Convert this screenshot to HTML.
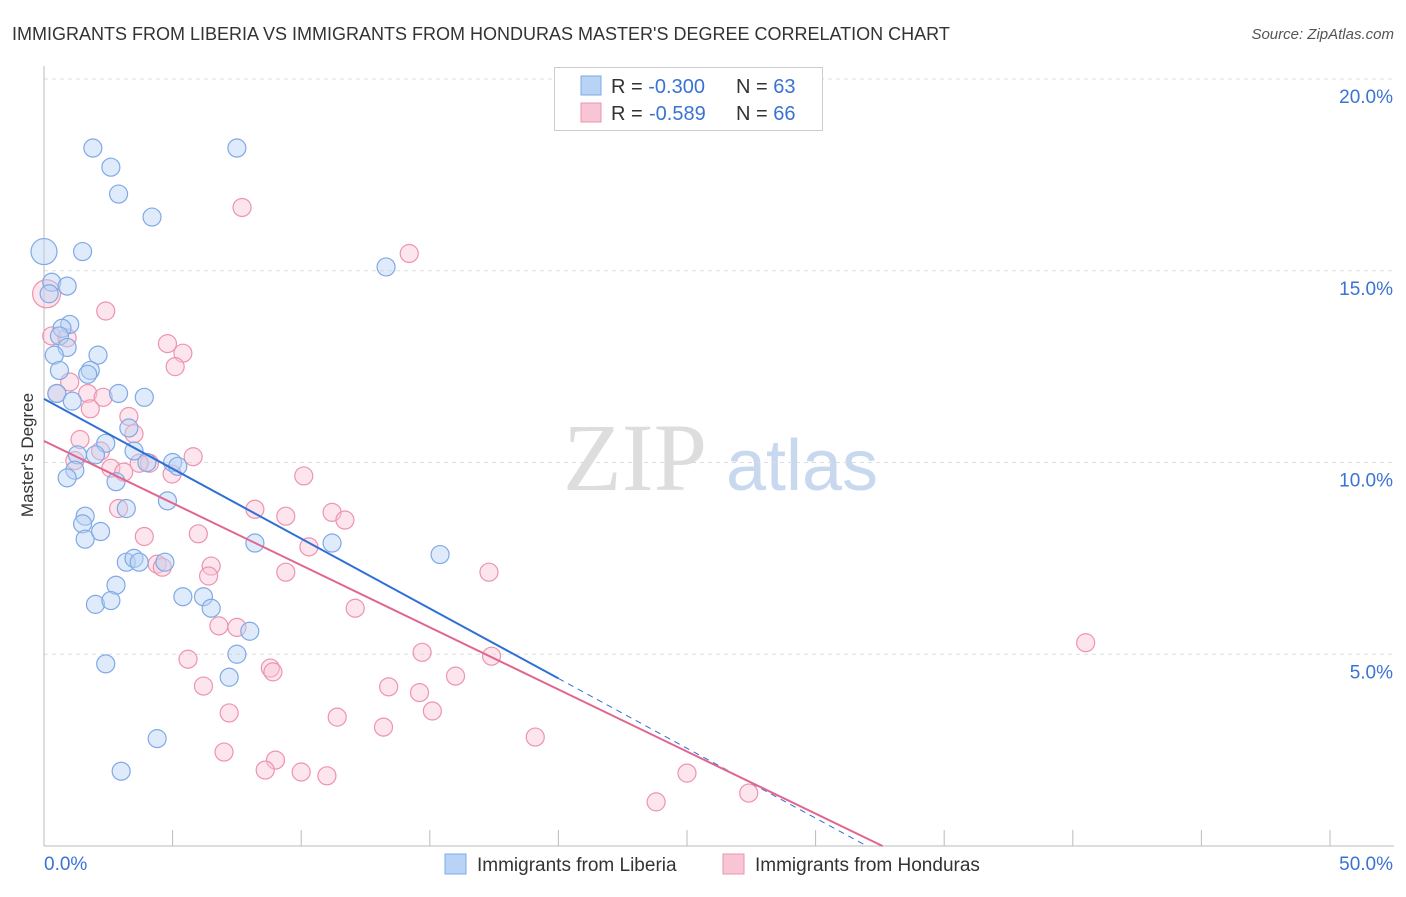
<!DOCTYPE html>
<html><head><meta charset="utf-8"><style>
body{margin:0;background:#fff;font-family:"Liberation Sans",sans-serif;}
</style></head><body>
<svg id="chart" width="1406" height="892" xmlns="http://www.w3.org/2000/svg" font-family="Liberation Sans, sans-serif">
<text x="12" y="40" font-size="18" fill="#333">IMMIGRANTS FROM LIBERIA VS IMMIGRANTS FROM HONDURAS MASTER'S DEGREE CORRELATION CHART</text>
<text x="1394" y="39" font-size="15" fill="#555" font-style="italic" text-anchor="end">Source: ZipAtlas.com</text>
<text transform="translate(33,455) rotate(-90)" font-size="17" fill="#333" text-anchor="middle">Master's Degree</text>
<g>
<text x="635" y="490" font-size="96" font-family="Liberation Serif, serif" fill="#ddd" text-anchor="middle">ZIP</text>
<text x="802" y="490" font-size="72" fill="#c8d8ee" text-anchor="middle">atlas</text>
</g>
<g id="grid"></g><g id="ticks"></g><g id="pts"></g><g id="lines"></g>
<g>
<rect x="554.5" y="67.5" width="268" height="63" fill="#fff" stroke="#ccc"/>
<rect x="581" y="76" width="20" height="19" fill="#b8d3f5" stroke="#7fa9e6"/>
<rect x="581" y="103" width="20" height="19" fill="#f8c5d4" stroke="#ee93b0"/>
<text x="611" y="93" font-size="20" fill="#333">R = <tspan fill="#3a73d4">-0.300</tspan><tspan x="736">N = </tspan><tspan fill="#3a73d4">63</tspan></text>
<text x="611" y="120" font-size="20" fill="#333">R = <tspan x="649" fill="#3a73d4">-0.589</tspan><tspan x="736">N = </tspan><tspan fill="#3a73d4">66</tspan></text>
</g>
<g>
<rect x="445" y="854" width="21" height="20" fill="#b8d3f5" stroke="#7fa9e6"/>
<text x="477" y="871" font-size="19" fill="#333">Immigrants from Liberia</text>
<rect x="723" y="854" width="21" height="20" fill="#f8c5d4" stroke="#ee93b0"/>
<text x="755" y="871" font-size="19" fill="#333">Immigrants from Honduras</text>
</g>
</svg>
<script>
const blueX=[0.0,1.9,2.6,2.9,4.2,7.5,1.5,13.3,0.3,0.9,0.2,1.0,0.7,0.6,0.9,0.4,2.1,0.6,1.8,1.7,2.9,3.9,0.5,1.1,3.3,2.4,3.5,2.0,1.3,1.2,0.9,2.8,5.0,5.2,4.0,4.8,3.2,1.6,1.5,1.6,2.2,8.2,11.2,15.4,3.2,3.5,3.7,4.7,2.8,5.4,6.2,2.0,2.6,6.5,8.0,7.5,2.4,7.2,4.4,3.0];
const blueY=[15.5,18.2,17.7,17.0,16.4,18.2,15.5,15.1,14.7,14.6,14.4,13.6,13.5,13.3,13.0,12.8,12.8,12.4,12.4,12.3,11.8,11.7,11.8,11.6,10.9,10.5,10.3,10.2,10.2,9.8,9.6,9.5,10.0,9.9,10.0,9.0,8.8,8.6,8.4,8.0,8.2,7.9,7.9,7.6,7.4,7.5,7.4,7.4,6.8,6.5,6.5,6.3,6.4,6.2,5.6,5.0,4.75,4.4,2.8,1.95];
const blueR=[13,9,9,9,9,9,9,9,9,9,9,9,9,9,9,9,9,9,9,9,9,9,9,9,9,9,9,9,9,9,9,9,9,9,9,9,9,9,9,9,9,9,9,9,9,9,9,9,9,9,9,9,9,9,9,9,9,9,9,9];
const pinkX=[7.7,14.2,0.1,2.4,0.3,0.9,4.8,5.4,5.1,1.0,0.5,1.7,2.3,1.8,3.3,3.5,1.4,2.2,1.2,4.1,4.98,5.8,2.6,3.1,3.7,10.1,2.9,8.2,9.4,11.2,11.7,3.9,6.0,10.3,6.5,4.4,4.6,6.4,9.4,17.3,12.1,6.8,7.5,14.7,17.4,5.6,8.8,8.9,16.0,6.2,13.4,14.6,15.1,7.2,11.4,13.2,19.1,7.0,9.0,8.6,10.0,11.0,25.0,23.8,27.4,40.5];
const pinkY=[16.65,15.45,14.4,13.95,13.3,13.25,13.1,12.85,12.5,12.1,11.8,11.8,11.7,11.4,11.2,10.75,10.6,10.3,10.05,9.98,9.7,10.15,9.85,9.75,9.98,9.65,8.8,8.78,8.6,8.7,8.5,8.07,8.14,7.8,7.3,7.35,7.27,7.04,7.14,7.14,6.2,5.74,5.7,5.05,4.95,4.87,4.64,4.54,4.43,4.17,4.15,4.0,3.52,3.47,3.36,3.1,2.84,2.45,2.24,1.98,1.93,1.83,1.9,1.15,1.38,5.3];
const pinkR=[9,9,14,9,9,9,9,9,9,9,9,9,9,9,9,9,9,9,9,9,9,9,9,9,9,9,9,9,9,9,9,9,9,9,9,9,9,9,9,9,9,9,9,9,9,9,9,9,9,9,9,9,9,9,9,9,9,9,9,9,9,9,9,9,9,9];
const blueTrend=[11.66,-0.3645]; // intercept, slope per %
const pinkTrend=[10.56,-0.3239];
const xTicks=[0,50];
const yTicks=[5,10,15,20];
const NS="http://www.w3.org/2000/svg";
function sx(v){return 44+v*25.72;}
function sy(v){return 846-v*38.35;}
function mk(tag,attrs,parent){const e=document.createElementNS(NS,tag);for(const k in attrs)e.setAttribute(k,attrs[k]);parent.appendChild(e);return e;}
const grid=document.getElementById('grid'),ticks=document.getElementById('ticks'),pts=document.getElementById('pts'),lines=document.getElementById('lines');
yTicks.forEach(t=>{
 const l=mk('line',{x1:44,x2:1394,y1:sy(t),y2:sy(t),stroke:'#ddd','stroke-dasharray':'4,4'},grid);
 
 
 const tx=mk('text',{x:1393,y:sy(t)+24,'font-size':19,fill:'#3a73d4','text-anchor':'end'},ticks);
 tx.textContent=t.toFixed(1)+'%';
 
 
});
mk('line',{x1:44,x2:44,y1:66,y2:846,stroke:'#bbb'},ticks);
mk('line',{x1:44,x2:1394,y1:846,y2:846,stroke:'#bbb'},ticks);
for(let i=0;i<=10;i++){const x=sx(i*5);mk('line',{x1:x,x2:x,y1:830,y2:846,stroke:'#bbb'},ticks);}
xTicks.forEach((t,i)=>{
 const tx=mk('text',{x:i==0?44:1393,y:870,'font-size':19,fill:'#3a73d4','text-anchor':i==0?'start':'end'},ticks);
 tx.textContent=t.toFixed(1)+'%';
 
 
});
function dots(X,Y,R,fill,stroke,name){X.forEach((x,i)=>{
 const c=mk('circle',{cx:sx(x),cy:sy(Y[i]),r:R[i],fill:fill,'fill-opacity':0.45,stroke:stroke,'stroke-width':1.2},pts);
 
 
});}
dots(pinkX,pinkY,pinkR,'#f8c5d4','#ee93b0','honduras-point');
dots(blueX,blueY,blueR,'#b8d3f5','#7fa9e6','liberia-point');
function trend(T,x0,x1,x2,color,name){
 const a=mk('line',{x1:sx(x0),y1:sy(T[0]+T[1]*x0),x2:sx(x1),y2:sy(T[0]+T[1]*x1),stroke:color,'stroke-width':2},lines);
 
 
 if(x2>x1){const b=mk('line',{x1:sx(x1),y1:sy(T[0]+T[1]*x1),x2:sx(x2),y2:sy(T[0]+T[1]*x2),stroke:color,'stroke-width':1,'stroke-dasharray':'6,5'},lines);
 
 }
}
trend(blueTrend,0,20,32,'#2f6fd6','liberia-trend-line');
trend(pinkTrend,0,-pinkTrend[0]/pinkTrend[1],0,'#e0668f','honduras-trend-line');
</script>
</body></html>
